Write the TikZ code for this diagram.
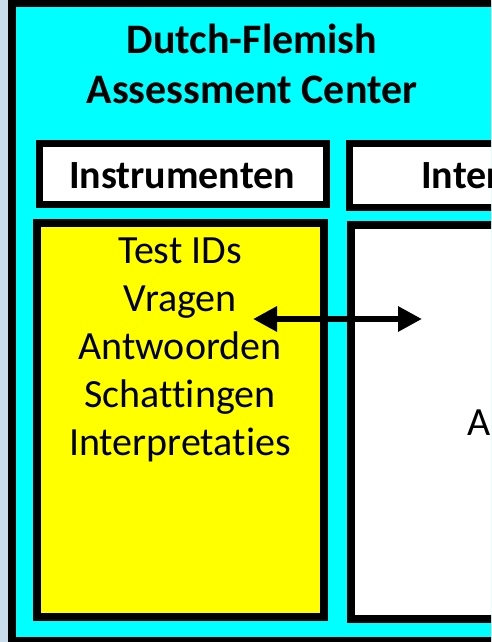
\documentclass[tikz,border=0pt]{standalone}
\usepackage{fontspec}
\setmainfont{Carlito}[Ligatures=NoCommon]
\usetikzlibrary{arrows.meta}
\definecolor{bgblue}{HTML}{C9DCEB}
\definecolor{aqua}{HTML}{00FFFF}
\definecolor{yel}{HTML}{FFFF00}
\begin{document}
\begin{tikzpicture}[x=1pt,y=-1pt,
  box/.style={draw=black,rectangle,inner sep=0pt,outer sep=0pt},
  bodytext/.style={font=\fontsize{40}{48}\selectfont,align=center,inner sep=0pt},
  labeltext/.style={font=\bfseries\fontsize{40}{48}\selectfont,inner sep=0pt},
  headtext/.style={font=\bfseries\fontsize{42}{50}\selectfont,align=center,inner sep=0pt},
  dbl/.style={line width=6pt,{Triangle[length=24pt,width=24pt]}-{Triangle[length=24pt,width=24pt]}}]
\useasboundingbox (0,0) rectangle (491,642);
\clip (0,0) rectangle (491,642);
\fill[bgblue] (0,0) rectangle (491,642);
% outer cyan box
\node[box,fill=aqua,line width=8pt,minimum width=508pt,minimum height=637.5pt] (outer) at (266,321.75) {};
% title
\node[headtext,anchor=base] (title) at (252,103) {Dutch-Flemish\\Assessment Center};
% label boxes
\node[box,fill=white,line width=7pt,minimum width=287pt,minimum height=61pt] (instr) at (183,174) {};
\node[labeltext,anchor=base] (instrtext) at (182,188) {Instrumenten};
\node[box,fill=white,line width=7pt,minimum width=211pt,minimum height=64pt] (inter) at (454.75,175.5) {};
\node[labeltext,anchor=base west] (intertext) at (421,188) {Inter};
% content boxes
\node[box,fill=yel,line width=8pt,minimum width=287.5pt,minimum height=394pt] (yellow) at (180.25,420) {};
\node[bodytext,anchor=base] (yellowtext) at (180,455) {Test IDs\\Vragen\\Antwoorden\\Schattingen\\Interpretaties};
\node[box,fill=white,line width=8pt,minimum width=209pt,minimum height=394pt] (right) at (455.5,422) {};
\node[bodytext,anchor=base west] (righttext) at (467,435) {A};
% arrow
\coordinate (al) at (253,319);
\coordinate (ar) at (422,319);
\draw[dbl] (al) -- (ar);
\end{tikzpicture}
\end{document}
